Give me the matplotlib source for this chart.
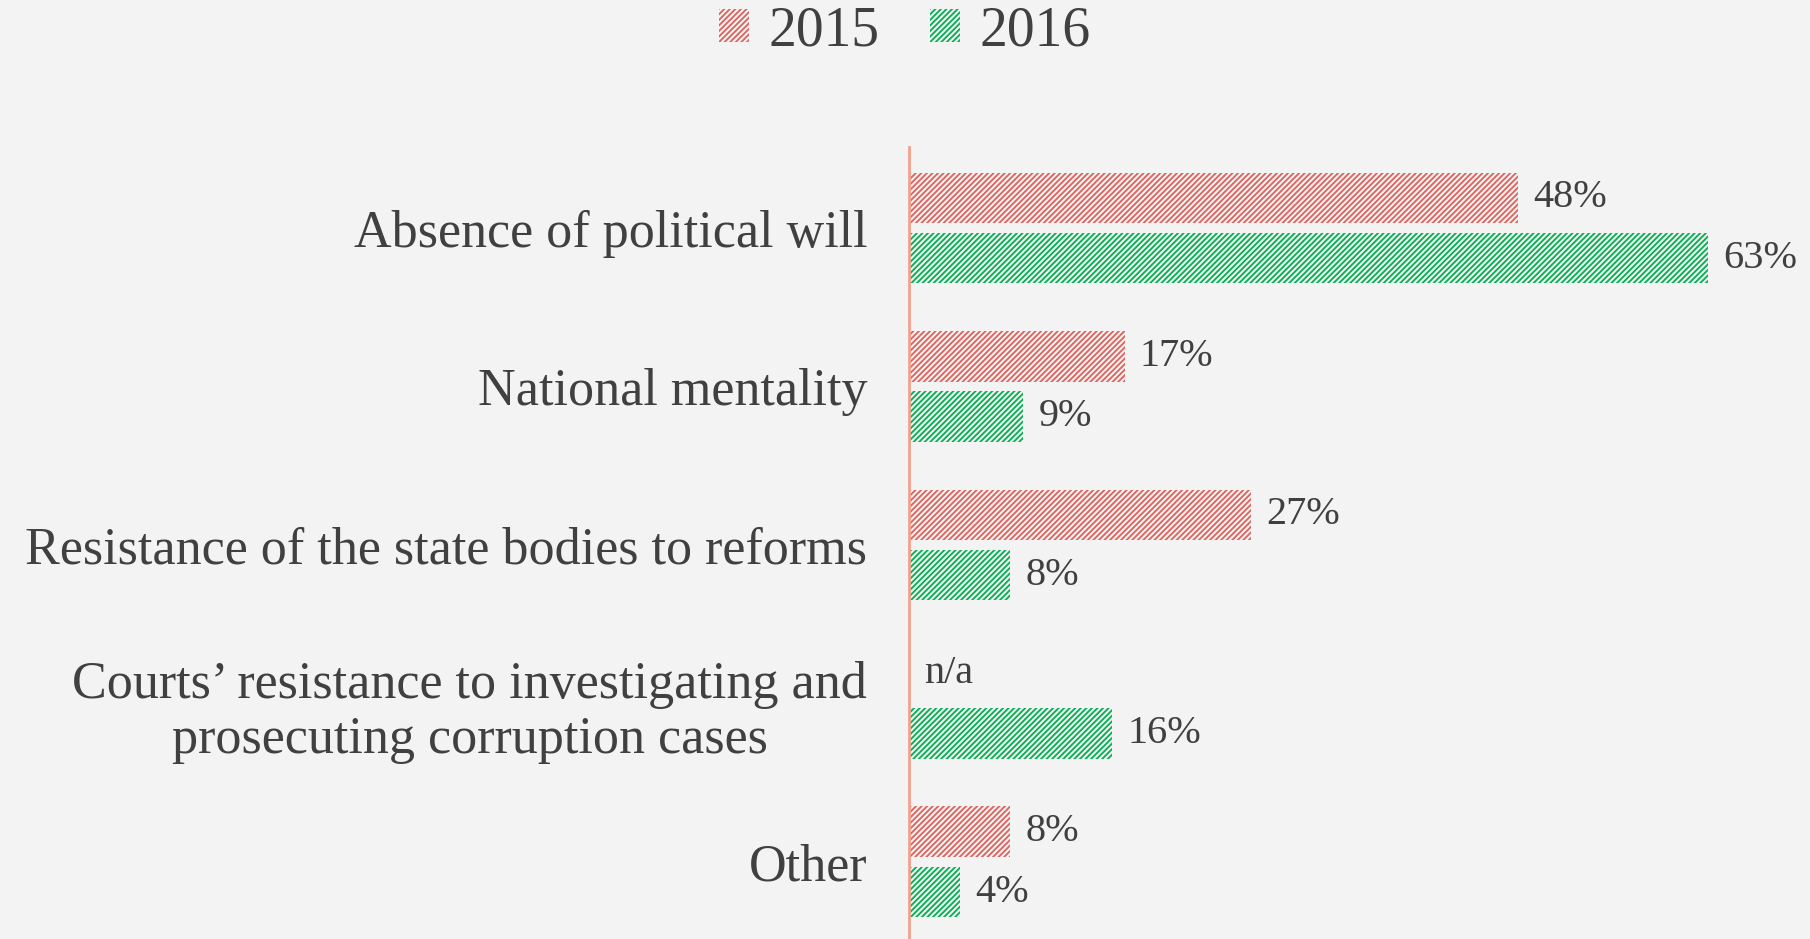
import numpy as np
import matplotlib
matplotlib.use("Agg")
import matplotlib.pyplot as plt
from matplotlib.patches import Patch

# Data
categories = [
    "Absence of political will",
    "National mentality",
    "Resistance of the state bodies to reforms",
    "Courts\u2019 resistance to investigating and\nprosecuting corruption cases",
    "Other",
]
values_2015 = [48, 17, 27, None, 8]
values_2016 = [63, 9, 8, 16, 4]
years = ["2015", "2016"]

bg = "#f3f3f3"
text_col = "#404040"
red = "#e0605a"
green = "#00b04f"
axis_col = "#f4a08e"
hatch = "//////"

plt.rcParams["font.family"] = ["Liberation Serif", "DejaVu Serif"]
plt.rcParams["hatch.linewidth"] = 1.3

W, H = 1810, 939
fig = plt.figure(figsize=(W / 100, H / 100), dpi=100, facecolor=bg)
ax = fig.add_axes([909 / W, 0, 1 - 909 / W, 1 - 147 / H], facecolor=bg)

y = np.arange(len(categories))
h = 0.32
off = 0.19

for i, (v15, v16) in enumerate(zip(values_2015, values_2016)):
    if v15 is not None:
        ax.barh(y[i] - off, v15, height=h, color="none", edgecolor=red,
                hatch=hatch, linewidth=0)
        ax.text(v15 + 1.2, y[i] - off, f"{v15}%", va="center", ha="left",
                fontsize=29, color=text_col)
    else:
        ax.text(1.2, y[i] - off, "n/a", va="center", ha="left",
                fontsize=29, color=text_col)
    ax.barh(y[i] + off, v16, height=h, color="none", edgecolor=green,
            hatch=hatch, linewidth=0)
    ax.text(v16 + 1.2, y[i] + off, f"{v16}%", va="center", ha="left",
            fontsize=29, color=text_col)

ax.set_xlim(0, 71.06)
ax.set_ylim(4.486, -0.511)
ax.set_yticks(y)
ax.set_yticklabels(categories, fontsize=37.5, color=text_col,
                   multialignment="center")
ax.tick_params(axis="y", length=0, pad=30)
ax.set_xticks([])
for s in ["top", "right", "bottom"]:
    ax.spines[s].set_visible(False)
ax.spines["left"].set_color(axis_col)
ax.spines["left"].set_linewidth(2)

handles = [Patch(facecolor="none", edgecolor=red, hatch=hatch, linewidth=0),
           Patch(facecolor="none", edgecolor=green, hatch=hatch, linewidth=0)]
fig.legend(handles, years, loc="center", bbox_to_anchor=(0.5, 1 - 31 / H),
           ncol=2, frameon=False, fontsize=40, labelcolor=text_col,
           handlelength=0.55, handleheight=0.55, handletextpad=0.35,
           columnspacing=0.9)

fig.savefig("out.png", dpi=100, facecolor=bg)
